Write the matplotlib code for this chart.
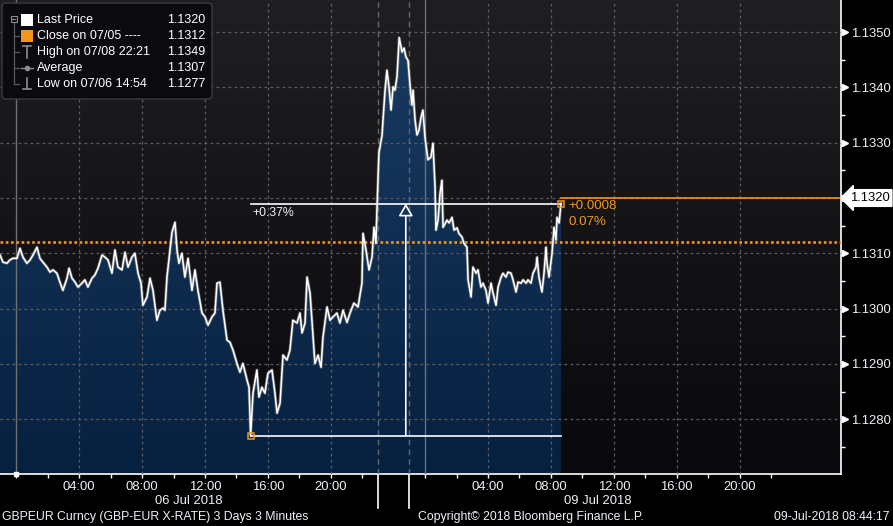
import numpy as np
import matplotlib
matplotlib.use("Agg")
import matplotlib.pyplot as plt
from matplotlib.path import Path
from matplotlib.patches import FancyArrowPatch, FancyBboxPatch, Rectangle
from matplotlib.colors import LinearSegmentedColormap
from matplotlib.transforms import blended_transform_factory

plt.rcParams['font.family'] = ['Liberation Sans', 'DejaVu Sans']

# ---------------- data ----------------
# Friday 06 Jul 2018: hours since 06 Jul 00:00 (negative = 05 Jul evening)
fri_hours = [-1.04, -0.85, -0.60, -0.41, -0.22, 0.04, 0.23, 0.42, 0.67, 0.87,
             1.06, 1.31, 1.50, 1.69, 1.95, 2.14, 2.33, 2.58, 2.77, 2.96,
             3.22, 3.35, 3.54, 3.73, 3.92, 4.17, 4.36, 4.55, 4.81, 5.00,
             5.19, 5.45, 5.64, 5.83, 6.08, 6.27, 6.46, 6.72, 6.91, 7.10,
             7.35, 7.54, 7.74, 7.93, 8.05, 8.31, 8.50, 8.69, 8.94, 9.13,
             9.33, 9.45, 9.58, 9.77, 9.90, 10.09, 10.22, 10.34, 10.53, 10.72,
             10.92, 11.17, 11.36, 11.55, 11.81, 12.00, 12.19, 12.44, 12.63, 12.76,
             12.95, 13.14, 13.40, 13.59, 13.78, 14.03, 14.22, 14.41, 14.67, 14.80,
             14.90, 15.05, 15.30, 15.43, 15.62, 15.81, 16.00, 16.26, 16.45, 16.58,
             16.77, 16.96, 17.21, 17.40, 17.59, 17.85, 18.04, 18.17, 18.36, 18.49,
             18.68, 18.80, 18.99, 19.19, 19.38, 19.50, 19.76, 19.95, 20.14, 20.39,
             20.58, 20.78, 21.03, 21.22, 21.47, 21.73, 21.98, 22.05, 22.24, 22.43,
             22.62, 22.75, 22.87, 22.94]
fri_price = [1.13097, 1.13084, 1.13082, 1.13088, 1.13091, 1.13091, 1.13109, 1.13093, 1.13082, 1.13088,
             1.13097, 1.13111, 1.13091, 1.13084, 1.13075, 1.13066, 1.13070, 1.13064, 1.13048, 1.13033,
             1.13055, 1.13073, 1.13055, 1.13048, 1.13039, 1.13046, 1.13052, 1.13039, 1.13055, 1.13061,
             1.13073, 1.13097, 1.13093, 1.13088, 1.13064, 1.13106, 1.13075, 1.13070, 1.13102, 1.13075,
             1.13093, 1.13100, 1.13064, 1.13046, 1.13006, 1.13021, 1.13055, 1.13033, 1.12979, 1.12997,
             1.13001, 1.12997, 1.13057, 1.13106, 1.13138, 1.13156, 1.13106, 1.13082, 1.13100, 1.13057,
             1.13091, 1.13033, 1.13070, 1.13033, 1.12992, 1.12985, 1.12970, 1.12985, 1.12992, 1.13046,
             1.13048, 1.12997, 1.12943, 1.12939, 1.12925, 1.12901, 1.12885, 1.12901, 1.12871, 1.12858,
             1.12770, 1.12847, 1.12889, 1.12840, 1.12858, 1.12847, 1.12883, 1.12889, 1.12847, 1.12811,
             1.12829, 1.12916, 1.12907, 1.12925, 1.12979, 1.12974, 1.12992, 1.12956, 1.12974, 1.13057,
             1.13028, 1.12979, 1.12901, 1.12916, 1.12894, 1.12948, 1.13003, 1.12979, 1.12985, 1.12992,
             1.12974, 1.12997, 1.12975, 1.12992, 1.13010, 1.13003, 1.13046, 1.13136, 1.13106, 1.13070,
             1.13093, 1.13147, 1.13118, 1.13183]

# Sunday 08 / Monday 09 Jul 2018: hours since 09 Jul 00:00 (negative = 08 Jul evening)
mon_hours = [-2.94, -2.74, -2.68, -2.55, -2.43, -2.30, -2.17, -2.04, -1.92, -1.79,
             -1.65, -1.47, -1.34, -1.22, -1.09, -0.96, -0.84, -0.77, -0.64, -0.52,
             -0.39, -0.26, -0.14, -0.01, 0.12, 0.18, 0.37, 0.50, 0.63, 0.69,
             0.82, 0.95, 1.07, 1.14, 1.39, 1.52, 1.71, 1.84, 2.03, 2.15,
             2.35, 2.47, 2.66, 2.73, 2.92, 3.04, 3.24, 3.36, 3.55, 3.68,
             3.87, 4.00, 4.19, 4.32, 4.51, 4.64, 4.83, 4.95, 5.14, 5.27,
             5.46, 5.59, 5.78, 5.91, 6.10, 6.23, 6.42, 6.54, 6.73, 6.86,
             7.05, 7.12, 7.24, 7.43, 7.56, 7.69, 7.75, 7.88, 8.07, 8.20,
             8.32, 8.39, 8.52, 8.64]
mon_price = [1.13281, 1.13314, 1.13341, 1.13395, 1.13431, 1.13401, 1.13359, 1.13401, 1.13395, 1.13419,
             1.13490, 1.13464, 1.13471, 1.13455, 1.13449, 1.13404, 1.13368, 1.13395, 1.13341, 1.13314,
             1.13323, 1.13346, 1.13359, 1.13310, 1.13281, 1.13269, 1.13274, 1.13299, 1.13220, 1.13142,
             1.13160, 1.13209, 1.13232, 1.13147, 1.13160, 1.13155, 1.13165, 1.13142, 1.13146, 1.13136,
             1.13129, 1.13118, 1.13111, 1.13052, 1.13021, 1.13075, 1.13064, 1.13070, 1.13039, 1.13046,
             1.13033, 1.13010, 1.13046, 1.13028, 1.13006, 1.13039, 1.13057, 1.13064, 1.13057, 1.13066,
             1.13064, 1.13052, 1.13030, 1.13048, 1.13046, 1.13052, 1.13046, 1.13052, 1.13046, 1.13064,
             1.13075, 1.13093, 1.13057, 1.13030, 1.13064, 1.13111, 1.13082, 1.13057, 1.13100, 1.13147,
             1.13124, 1.13165, 1.13155, 1.13190]

MON_OFFSET = 26.0          # 09 Jul 00:00 on the weekend-compressed axis
SESSION_BREAKS = [23.0, 25.0]
y_ticks = [1.1280, 1.1290, 1.1300, 1.1310, 1.1320, 1.1330, 1.1340, 1.1350]
time_labels = ['04:00', '08:00', '12:00', '16:00', '20:00']
label_hours = [4, 8, 12, 16, 20]
minor_hours = [0, 2, 6, 10, 14, 18, 22]
date_labels = ['06 Jul 2018', '09 Jul 2018']

LAST_PRICE = 1.1320
PREV_CLOSE = 1.1312
HIGH = 1.1349
AVERAGE = 1.1307
LOW = 1.1277
legend_labels = ['Last Price', 'Close on 07/05 ----', 'High on 07/08 22:21', 'Average', 'Low on 07/06 14:54']
legend_values = [LAST_PRICE, PREV_CLOSE, HIGH, AVERAGE, LOW]
change_abs = '+0.0008'
change_pct = '0.07%'
low_to_last_pct = '+0.37%'

footer_left = 'GBPEUR Curncy (GBP-EUR X-RATE) 3 Days 3 Minutes'
footer_mid = 'Copyright\u00a9 2018 Bloomberg Finance L.P.'
footer_right = '09-Jul-2018 08:44:17'

# ---------------- styling ----------------
ORANGE = '#f2961b'
TXT = '#eef2f8'
GRID = '#5e5e62'
FS = 9.0

W, H = 893, 526
fig = plt.figure(figsize=(W / 100, H / 100), dpi=100, facecolor='black')
rect = [0, 52 / H, 841 / W, 474 / H]

# background gradient
bg = fig.add_axes(rect, zorder=0)
bg_cmap = LinearSegmentedColormap.from_list('bg', ['#1f1f22', '#09090d'])
bg.imshow(np.linspace(0, 1, 256).reshape(-1, 1), extent=[0, 1, 0, 1], origin='upper',
          aspect='auto', cmap=bg_cmap)
bg.set_xlim(0, 1); bg.set_ylim(0, 1); bg.axis('off')

ax = fig.add_axes(rect, zorder=1)
ax.patch.set_visible(False)

pos = np.array(fri_hours + [h + MON_OFFSET for h in mon_hours])
price = np.array(fri_price + mon_price)

XMIN, XMAX = -1.04, 52.45
YMIN, YMAX = 1.12701, 1.13558

# area fill with vertical gradient
verts = np.column_stack([np.r_[pos, pos[-1], pos[0]], np.r_[price, YMIN, YMIN]])
clip = Path(verts)
fill_cmap = LinearSegmentedColormap.from_list('fill', ['#1a3c64', '#06203f'])
im = ax.imshow(np.linspace(0, 1, 256).reshape(-1, 1), extent=[XMIN, XMAX, YMIN, YMAX],
               origin='upper', aspect='auto', cmap=fill_cmap, zorder=2)
im.set_clip_path(clip, transform=ax.transData)
ax.set_xlim(XMIN, XMAX)
ax.set_ylim(YMIN, YMAX)

# grid
for v in y_ticks:
    ax.axhline(v, color=GRID, lw=0.9, ls=(0, (2.2, 2.6)), zorder=3)
for d in [0.0, MON_OFFSET]:
    for h in label_hours:
        ax.axvline(d + h, color=GRID, lw=0.9, ls=(0, (2.2, 2.6)), zorder=3)
    ax.axvline(d, color='#707074', lw=1.0, zorder=3)
for s in SESSION_BREAKS:
    ax.axvline(s, color='#66666a', lw=1.0, ls=(0, (4, 3)), zorder=3)

# previous close dotted
ax.axhline(PREV_CLOSE, color=ORANGE, lw=1.9, ls=(0, (1, 1)), zorder=4)

# price line
ax.plot(pos, price, color='#9a9a9a', lw=2.2, alpha=0.55, zorder=5, solid_joinstyle='round')
ax.plot(pos, price, color='white', lw=1.1, zorder=6, solid_joinstyle='round')

# last price orange line
ax.plot([pos[-1], XMAX], [LAST_PRICE, LAST_PRICE], color=ORANGE, lw=1.2, zorder=6, clip_on=False)

# low-to-last measurement
i_low = int(np.argmin(price))
x_low, y_low = pos[i_low], price[i_low]
x_end, y_end = pos[-1], price[-1]
ax.plot([x_low, x_end], [y_low, y_low], color='white', lw=1.2, zorder=7)
ax.plot([x_low, x_end], [y_end, y_end], color='white', lw=1.2, zorder=7)
x_mid = (x_low + x_end) / 2
arr = FancyArrowPatch((x_mid, y_low), (x_mid, y_end), arrowstyle='-|>,head_length=7.5,head_width=4.3',
                      mutation_scale=1, shrinkA=0, shrinkB=0, lw=1.2, ec='white', fc='#163658', zorder=8)
ax.add_patch(arr)
ax.plot([x_low, x_end], [y_low, y_end], ls='none', marker='s', ms=5, mfc='none', mec=ORANGE, mew=1.1, zorder=9)
ax.text(x_low + 0.1, y_end - 0.00006, low_to_last_pct, color=TXT, fontsize=FS - 0.2, ha='left', va='top', zorder=9)
ax.text(x_end + 0.5, y_end - 0.00005, change_abs, color=ORANGE, fontsize=FS + 0.6, ha='left', va='center', zorder=9)
ax.text(x_end + 0.5, y_end - 0.00034, change_pct, color=ORANGE, fontsize=FS + 0.6, ha='left', va='center', zorder=9)

# axes / spines
for s in ['top', 'left']:
    ax.spines[s].set_visible(False)
for s in ['right', 'bottom']:
    ax.spines[s].set_color('white')
    ax.spines[s].set_linewidth(1.2)

ax.yaxis.tick_right()
ax.set_yticks(y_ticks)
ax.set_yticklabels([f'{v:.4f}' for v in y_ticks])
ax.set_yticks([v + 0.0005 for v in y_ticks[:-1]] + [y_ticks[0] - 0.0005], minor=True)
ax.tick_params(axis='y', which='major', length=0, pad=7.5, labelsize=FS + 0.4, labelcolor=TXT)
ax.tick_params(axis='y', which='minor', length=3, width=1, color='white', direction='out')
trans_y = blended_transform_factory(ax.transAxes, ax.transData)
ax.plot([1.0045] * len(y_ticks), y_ticks, ls='none', marker='>', ms=4.6, color='white',
        transform=trans_y, clip_on=False, zorder=10)
for lab in ax.get_yticklabels():
    if lab.get_text() == f'{LAST_PRICE:.4f}':
        lab.set_visible(False)
ax.text(1.0105, LAST_PRICE, f'{LAST_PRICE:.4f}', transform=trans_y, color='black', fontsize=FS + 0.4,
        ha='left', va='center', clip_on=False, zorder=11,
        bbox=dict(boxstyle='larrow,pad=0.18', fc='white', ec='white'))

major_x = [d + h for d in [0.0, MON_OFFSET] for h in label_hours]
minor_x = [d + h for d in [0.0, MON_OFFSET] for h in minor_hours]
ax.set_xticks(major_x)
ax.set_xticklabels(time_labels * 2)
ax.set_xticks(minor_x, minor=True)
ax.tick_params(axis='x', which='both', length=3, width=1, color='white', direction='out',
               labelsize=FS + 0.4, labelcolor=TXT, pad=2)

trans_x = blended_transform_factory(ax.transData, ax.transAxes)
for s in SESSION_BREAKS:
    ax.plot([s, s], [0, -34 / 474], color='white', lw=1.2, transform=trans_x, clip_on=False)
ax.plot([0], [0], marker='s', ms=3, color='white', transform=trans_x, clip_on=False, zorder=10)
for d, lab in zip([0.0, MON_OFFSET], date_labels):
    ax.text(d + 11, -27 / 474, lab, transform=trans_x, color=TXT, fontsize=FS + 0.4, ha='center', va='center')

# ---------------- overlay: legend & footer ----------------
ov = fig.add_axes([0, 0, 1, 1], zorder=20)
ov.set_xlim(0, W); ov.set_ylim(H, 0); ov.axis('off'); ov.patch.set_visible(False)

ov.add_patch(FancyBboxPatch((2, 3), 210, 96, boxstyle='round,pad=0,rounding_size=4',
                            fc='#0b0b0f', ec='#3c3c40', lw=1))
rows = [20, 36, 52, 68, 84]
ICON = '#8c8c90'
ov.plot([13.5, 13.5], [23, rows[-1]], color='#5a5a5e', lw=0.9)
for r in rows[1:]:
    ov.plot([13.5, 19], [r, r], color='#5a5a5e', lw=0.9)
ov.add_patch(Rectangle((10.5, 15.5), 6, 6, fc='none', ec=ICON, lw=0.8))
ov.plot([12, 15], [18.5, 18.5], color=ICON, lw=0.8)
ov.add_patch(Rectangle((21, 14), 12, 12, fc='white', ec='none'))
ov.add_patch(Rectangle((21, 30), 12, 12, fc=ORANGE, ec='none'))
ov.plot([27, 27], [46, 58], color=ICON, lw=1.2)
ov.plot([23, 31], [46, 46], color=ICON, lw=1.2)
ov.plot([21, 33], [68, 68], color=ICON, lw=1.0)
ov.plot([27], [68], marker='o', ms=3, color=ICON)
ov.plot([27, 27], [78, 89], color=ICON, lw=1.2)
ov.plot([23, 31], [89, 89], color=ICON, lw=1.2)
for r, lab, val in zip(rows, legend_labels, legend_values):
    ov.text(37, r, lab, color='white', fontsize=FS, ha='left', va='center')
    ov.text(205, r, f'{val:.4f}', color='white', fontsize=FS, ha='right', va='center')

ov.text(2, 517, footer_left, color=TXT, fontsize=FS - 0.2, ha='left', va='center')
ov.text(418, 517, footer_mid, color=TXT, fontsize=FS - 0.2, ha='left', va='center')
ov.text(890, 517, footer_right, color=TXT, fontsize=FS - 0.2, ha='right', va='center')

fig.savefig('out.png', dpi=100, facecolor='black')
